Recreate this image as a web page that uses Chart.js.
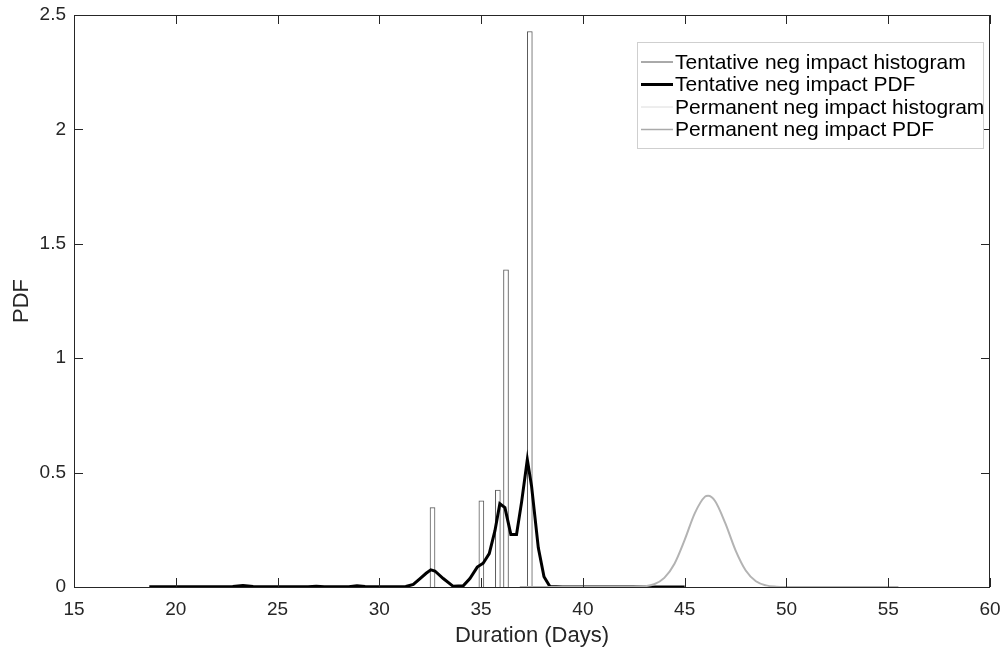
<!DOCTYPE html>
<html>
<head>
<meta charset="utf-8">
<script src="https://cdn.jsdelivr.net/npm/chart.js@4.4.1/dist/chart.umd.min.js"></script>
<style>
  html, body { margin: 0; padding: 0; background: #fff; }
  #wrap { width: 1007px; height: 655px; }
</style>
</head>
<body>
<div id="wrap"><canvas id="pdfChart"></canvas></div>
<script>
// histogram bins (tentative negative impact)
const tentHistDays = [32.49, 34.89, 35.70, 36.10, 37.27];
const tentHistPdf = [0.347, 0.377, 0.424, 1.386, 2.428];

// kernel density estimate, tentative
const tentPdfDays = [18.7, 20, 21.5, 22.8, 23.3, 23.8, 25, 26.5, 26.9, 27.3, 28.5, 28.9, 29.3, 30.5, 31.3,
    31.67, 32.0, 32.3, 32.53, 32.73, 33.14, 33.63, 34.12, 34.45, 34.81, 35.10, 35.40, 35.68, 35.92,
    36.17, 36.46, 36.74, 36.99, 37.27, 37.48, 37.81, 38.09, 38.38, 39, 41, 43, 45];
const tentPdf = [0.001, 0.001, 0.001, 0.002, 0.006, 0.002, 0.001, 0.001, 0.003, 0.001, 0.001, 0.005, 0.002, 0.001, 0.002,
    0.011, 0.037, 0.06, 0.075, 0.07, 0.037, 0.003, 0.005, 0.037, 0.087, 0.104, 0.146, 0.246, 0.364,
    0.347, 0.23, 0.23, 0.372, 0.557, 0.44, 0.171, 0.045, 0.002, 0, 0, 0, 0];

// permanent negative impact
const permHistDays = [];
const permHistPdf = [];
const permPdfDays = [36.9, 38, 39, 40, 41, 42, 42.5, 43, 43.5, 44, 44.5, 45, 45.5, 46, 46.15, 46.5, 47, 47.5,
    48, 48.5, 49, 49.5, 50, 51, 52, 53, 54, 55.5];
const permPdf = [0, 0, 0, 0, 0, 0.0001, 0.0005, 0.0028, 0.012, 0.04, 0.102, 0.206, 0.323, 0.395, 0.399, 0.375, 0.278, 0.16,
    0.072, 0.025, 0.007, 0.0015, 0.0002, 0, 0, 0, 0, 0];

const xTicks = [15, 20, 25, 30, 35, 40, 45, 50, 55, 60];
const yTicks = [0, 0.5, 1, 1.5, 2, 2.5];

const labels = ['Tentative neg impact histogram', 'Tentative neg impact PDF',
    'Permanent neg impact histogram', 'Permanent neg impact PDF'];

const axisColor = '#262626';
const family = "'Liberation Sans', Arial, sans-serif";
const tickFont = { family: family, size: 19 };
const titleFont = { family: family, size: 22 };

function pts(xs, ys) {
    return xs.map((x, i) => ({ x: x, y: ys[i] }));
}

function noPad(s) {
    s.paddingLeft = 0; s.paddingRight = 0; s.paddingTop = 0; s.paddingBottom = 0;
}

// MATLAB-like box with inward ticks
const frame = {
    id: 'frame',
    afterDatasetsDraw(chart) {
        const { ctx, chartArea: a, scales } = chart;
        ctx.save();
        ctx.strokeStyle = axisColor;
        ctx.lineWidth = 1;
        ctx.strokeRect(a.left + 0.5, a.top + 0.5, a.right - a.left - 1, a.bottom - a.top);
        ctx.beginPath();
        xTicks.forEach(v => {
            const px = Math.round(scales.x.getPixelForValue(v)) + 0.5;
            ctx.moveTo(px, a.bottom); ctx.lineTo(px, a.bottom - 9);
            ctx.moveTo(px, a.top); ctx.lineTo(px, a.top + 9);
        });
        yTicks.forEach(v => {
            const py = Math.round(scales.y.getPixelForValue(v)) + 0.5;
            ctx.moveTo(a.left, py); ctx.lineTo(a.left + 9, py);
            ctx.moveTo(a.right, py); ctx.lineTo(a.right - 9, py);
        });
        ctx.stroke();
        ctx.restore();
    }
};

// legend box in the upper right
const boxLegend = {
    id: 'boxLegend',
    afterDraw(chart) {
        const ctx = chart.ctx;
        const x0 = 637, y0 = 42, w = 346, h = 106;
        ctx.save();
        ctx.fillStyle = '#fff';
        ctx.fillRect(x0, y0, w, h);
        ctx.strokeStyle = '#cfcfcf';
        ctx.lineWidth = 1;
        ctx.strokeRect(x0 + 0.5, y0 + 0.5, w, h);
        ctx.font = '21px ' + family;
        ctx.textBaseline = 'middle';
        chart.data.datasets.forEach((ds, i) => {
            const y = y0 + 20 + i * 22.5;
            ctx.strokeStyle = ds.legendColor;
            ctx.lineWidth = ds.legendWidth;
            ctx.beginPath();
            ctx.moveTo(x0 + 4, y); ctx.lineTo(x0 + 36, y);
            ctx.stroke();
            ctx.fillStyle = '#000';
            ctx.fillText(ds.label, x0 + 38, y + 1);
        });
        ctx.restore();
    }
};

new Chart(document.getElementById('pdfChart'), {
    type: 'line',
    data: {
        datasets: [
            {
                type: 'bar',
                label: labels[0],
                data: pts(tentHistDays, tentHistPdf),
                backgroundColor: '#ffffff',
                borderColor: '#5a5a5a',
                borderWidth: 1,
                barThickness: 5,
                legendColor: '#555555',
                legendWidth: 1,
                order: 4
            },
            {
                label: labels[1],
                data: pts(tentPdfDays, tentPdf),
                borderColor: '#000000',
                borderWidth: 3,
                pointRadius: 0,
                tension: 0,
                fill: false,
                legendColor: '#000000',
                legendWidth: 3,
                order: 3
            },
            {
                type: 'bar',
                label: labels[2],
                data: pts(permHistDays, permHistPdf),
                backgroundColor: '#ffffff',
                borderColor: '#dcdcdc',
                borderWidth: 1,
                barThickness: 5,
                legendColor: '#dcdcdc',
                legendWidth: 1,
                order: 2
            },
            {
                label: labels[3],
                data: pts(permPdfDays, permPdf),
                borderColor: '#b3b3b3',
                borderWidth: 2,
                pointRadius: 0,
                cubicInterpolationMode: 'monotone',
                fill: false,
                legendColor: '#aaaaaa',
                legendWidth: 1.5,
                order: 1
            }
        ]
    },
    options: {
        responsive: true,
        maintainAspectRatio: false,
        animation: false,
        layout: { padding: { top: 15, right: 17, left: 0, bottom: 0 } },
        scales: {
            x: {
                type: 'linear',
                min: 15,
                max: 60,
                offset: false,
                grid: { display: false, drawTicks: false, offset: false },
                border: { display: false },
                afterBuildTicks: s => { s.ticks = xTicks.map(v => ({ value: v })); },
                afterFit: s => { s.height = 68; noPad(s); },
                ticks: { color: axisColor, font: tickFont, padding: 11, maxRotation: 0,
                    callback: v => String(v) },
                title: { display: true, text: 'Duration (Days)', color: axisColor, font: titleFont,
                    padding: { top: 0, bottom: 6 } }
            },
            y: {
                min: 0,
                max: 2.5,
                grid: { display: false, drawTicks: false },
                border: { display: false },
                afterBuildTicks: s => { s.ticks = yTicks.map(v => ({ value: v })); },
                afterFit: s => { s.width = 74; noPad(s); },
                ticks: { color: axisColor, font: tickFont, padding: 8,
                    callback: v => String(v) },
                title: { display: true, text: 'PDF', color: axisColor, font: titleFont,
                    padding: { top: 9, bottom: 0 } }
            }
        },
        plugins: {
            legend: { display: false },
            tooltip: { enabled: false }
        }
    },
    plugins: [frame, boxLegend]
});
</script>
</body>
</html>
